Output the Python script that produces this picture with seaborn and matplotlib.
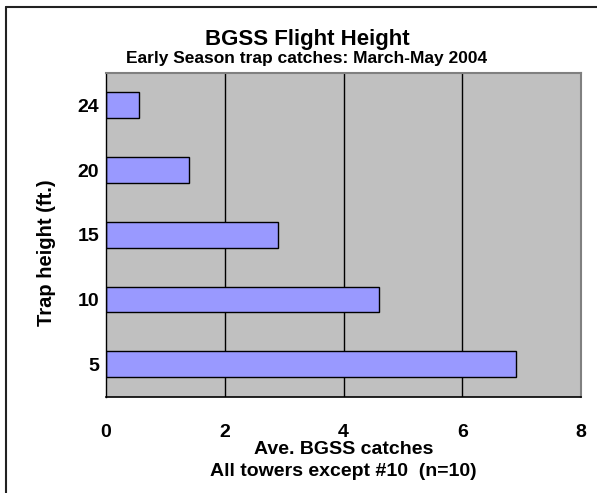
import matplotlib
matplotlib.use('Agg')
import matplotlib.pyplot as plt
import seaborn as sns
import pandas as pd

# trap heights (ft.) top to bottom, and average catches
heights = ['24', '20', '15', '10', '5']
catches = [0.55, 1.4, 2.9, 4.6, 6.9]
xticks = [0, 2, 4, 6, 8]

sns.set_style('white')
plt.rcParams['font.family'] = ['Liberation Sans', 'DejaVu Sans']
plt.rcParams['font.weight'] = 'bold'
plt.rcParams['text.color'] = 'black'
plt.rcParams['axes.labelcolor'] = 'black'
plt.rcParams['xtick.color'] = 'black'
plt.rcParams['ytick.color'] = 'black'

df = pd.DataFrame({'height': heights, 'catches': catches})

fig = plt.figure(figsize=(5.97, 4.93), dpi=100)
ax = fig.add_axes([106 / 597, 1 - 396.5 / 493, 475 / 597, 323.5 / 493])
ax.set_facecolor('#C0C0C0')

# vertical gridlines at 2, 4, 6
for x in xticks[1:-1]:
    ax.axvline(x, color='black', lw=1, zorder=0.5)

sns.barplot(data=df, x='catches', y='height', order=heights, orient='h',
            color='#9999FF', edgecolor='black', linewidth=1, width=0.4,
            saturation=1, ax=ax, zorder=2)

ax.set_xlim(0, 8)
ax.set_ylim(4.5, -0.5)
ax.set_xticks(xticks)
ax.tick_params(axis='x', direction='out', length=4.5, width=1, color='black',
               pad=15, labelsize=14)
ax.tick_params(axis='y', length=0, pad=5, labelsize=14)
for lab in ax.get_xticklabels() + ax.get_yticklabels():
    lab.set_fontweight('bold')

ax.spines['left'].set_color('black')
ax.spines['bottom'].set_color('black')
ax.spines['left'].set_linewidth(1)
ax.spines['bottom'].set_linewidth(1.2)
ax.spines['top'].set_color('#808080')
ax.spines['right'].set_color('#808080')
ax.spines['top'].set_linewidth(1.5)
ax.spines['right'].set_linewidth(1.5)

ax.set_xlabel('Ave. BGSS catches\nAll towers except #10  (n=10)',
              fontsize=14, fontweight='bold', linespacing=1.4)
ax.xaxis.set_label_coords(0.5, -0.137)
ax.xaxis.label.set_va('top')
ax.set_ylabel('Trap height (ft.)', fontsize=14.5, fontweight='bold')
ax.yaxis.set_label_coords(-0.126, 0.444)
ax.yaxis.label.set_va('center')

fig.text(307 / 597, 1 - 39 / 493, 'BGSS Flight Height', ha='center', va='center',
         fontsize=16, fontweight='bold')
fig.text(307 / 597, 1 - 58.5 / 493, 'Early Season trap catches: March-May 2004',
         ha='center', va='center', fontsize=12.5, fontweight='bold')

# chart area border (top and left edges visible)
fig.add_artist(plt.Line2D([5.5 / 597, 5.5 / 597], [0, 1 - 6.5 / 493],
                          color='#222222', lw=1.5))
fig.add_artist(plt.Line2D([5.5 / 597, 1], [1 - 6.5 / 493, 1 - 6.5 / 493],
                          color='#222222', lw=1.5))

fig.savefig('out.png', dpi=100)
